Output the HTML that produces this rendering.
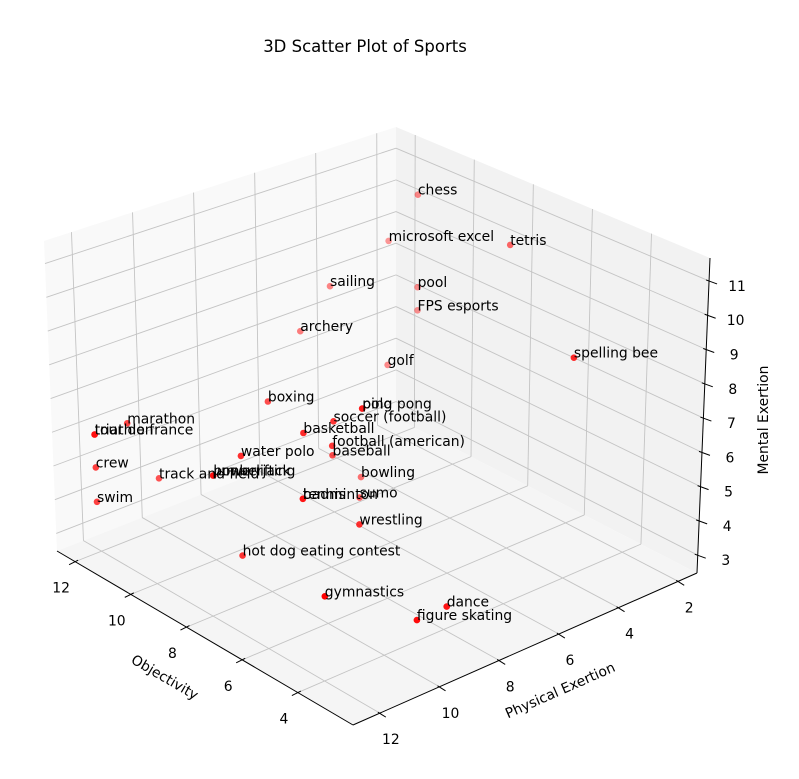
<!DOCTYPE html>
<html><head><meta charset="utf-8"><style>
html,body{margin:0;padding:0;background:#fff;}
svg{display:block;font-family:"DejaVu Sans","Liberation Sans",sans-serif;}
</style></head><body>
<svg id="chart" width="799" height="779" viewBox="0 0 799 779" xmlns="http://www.w3.org/2000/svg">
<rect width="799" height="779" fill="#fff"/>
<text x="365" y="52" text-anchor="middle" font-size="16.5" fill="#000">3D Scatter Plot of Sports</text>
<g id="panes"></g>
<g id="grid"></g>
<g id="axes"></g>
<g id="points"></g>
<g id="labels"></g>
<text x="165" y="682" text-anchor="middle" font-size="13.9" transform="rotate(30.4 165 677)">Objectivity</text>
<text x="560" y="695" text-anchor="middle" font-size="13.9" transform="rotate(-23.8 560 690)">Physical Exertion</text>
<text x="763" y="425" text-anchor="middle" font-size="13.9" transform="rotate(-90 763 420)">Mental Exertion</text>
</svg>
<script>
const sports = ["chess","microsoft excel","tetris","pool","FPS esports","golf","sailing","archery","spelling bee","boxing","marathon","triathlon","tour de france","crew","swim","track and field","lumberjack","powerlifting","water polo","basketball","soccer (football)","polo","ping pong","football (american)","baseball","bowling","tennis","badminton","sumo","wrestling","hot dog eating contest","gymnastics","dance","figure skating"];
const objectivity = [11.25,12.25,8.1,11.25,11.25,11.25,12.2,12.2,3.8,10.2,12,12.1,12.1,12.1,12.1,12.0,10.05,10.05,9.05,7.9,7.9,9,9,7.95,9,10.1,9,9,9.1,7,9.05,5.05,3.9,3.9];
const physical = [2,2,2,2,2,3,4,5,4,8,11,12,12,12,12,10,10,10,10,9,8,6,6,8,7,5,8,8,6,8,10,11,8,9];
const mental = [10.3,8.45,10.0,7.42,6.7,5.35,7.72,6.66,9.03,6.42,5.95,5.9,5.9,4.92,3.9,3.97,4.96,4.96,6.0,6.85,6.85,6.05,6.05,6.1,5,3.13,4.05,4.05,3.33,4.2,3.05,4.07,3.19,3.17];
const xTicks = [4,6,8,10,12];
const yTicks = [2,4,6,8,10,12];
const zTicks = [3,4,5,6,7,8,9,10,11];
const xLim = [2.02,12.65], yLim = [1.37,12.9], zLim = [2.48,11.67];

const K = {"000":[697,573],"100":[396,418],"010":[353,725],"110":[57,551],
           "001":[710,258],"101":[396,127],"011":[353,402],"111":[44,241]};
function projUVW(u,v,w){
  let X=0,Y=0;
  for(const a of [0,1])for(const b of [0,1])for(const c of [0,1]){
    const wt=(a?u:1-u)*(b?v:1-v)*(c?w:1-w);
    const p=K[""+a+b+c]; X+=wt*p[0]; Y+=wt*p[1];
  }
  return [X,Y];
}
const nu=x=>(x-xLim[0])/(xLim[1]-xLim[0]);
const nv=y=>(y-yLim[0])/(yLim[1]-yLim[0]);
const nw=z=>(z-zLim[0])/(zLim[1]-zLim[0]);
function proj(x,y,z){return projUVW(nu(x),nv(y),nw(z));}
const NS="http://www.w3.org/2000/svg";
function mk(tag,attrs,parent){const e=document.createElementNS(NS,tag);for(const k in attrs)e.setAttribute(k,attrs[k]);parent.appendChild(e);return e;}
function poly(pts){return pts.map(p=>p[0].toFixed(1)+","+p[1].toFixed(1)).join(" ");}

const panes=document.getElementById("panes");
let pe=mk("polygon",{points:poly([K["100"],K["110"],K["111"],K["101"]]),fill:"#f9f9f9"},panes);


pe=mk("polygon",{points:poly([K["000"],K["100"],K["101"],K["001"]]),fill:"#f2f2f2"},panes);


pe=mk("polygon",{points:poly([K["000"],K["100"],K["110"],K["010"]]),fill:"#f5f5f5"},panes);



const grid=document.getElementById("grid");
function gl(a,b,name){const l=mk("line",{x1:a[0],y1:a[1],x2:b[0],y2:b[1],stroke:"#c4c4c4","stroke-width":0.9},grid);

}
yTicks.forEach(t=>{gl(projUVW(1,nv(t),0),projUVW(1,nv(t),1),'gridline-y-xpane');gl(projUVW(0,nv(t),0),projUVW(1,nv(t),0),'gridline-y-floor');});
zTicks.forEach(t=>{gl(projUVW(1,0,nw(t)),projUVW(1,1,nw(t)),'gridline-z-xpane');gl(projUVW(0,0,nw(t)),projUVW(1,0,nw(t)),'gridline-z-ypane');});
xTicks.forEach(t=>{gl(projUVW(nu(t),0,0),projUVW(nu(t),0,1),'gridline-x-ypane');gl(projUVW(nu(t),0,0),projUVW(nu(t),1,0),'gridline-x-floor');});

const axes=document.getElementById("axes");
function al(a,b,name){const l=mk("line",{x1:a[0],y1:a[1],x2:b[0],y2:b[1],stroke:"#000","stroke-width":1},axes);

}
al(K["010"],K["110"],'x-axis-line');
al(K["010"],K["000"],'y-axis-line');
al(K["000"],K["001"],'z-axis-line');
function tick(p,d1,d2,lo,label,name){
  const l=mk("line",{x1:p[0]+d1[0],y1:p[1]+d1[1],x2:p[0]+d2[0],y2:p[1]+d2[1],stroke:"#000","stroke-width":1},axes);
  
  
  const t=mk("text",{x:p[0]+lo[0],y:p[1]+lo[1]+5,"text-anchor":"middle","font-size":13.9},axes);
  t.textContent=label;
  
  
}
xTicks.forEach(t=>tick(projUVW(nu(t),1,0),[3,-1.5],[-6,3],[-14,26],t,'x'));
yTicks.forEach(t=>tick(projUVW(0,nv(t),0),[-2,-1],[6,4],[11,26],t,'y'));
zTicks.forEach(t=>tick(projUVW(0,0,nw(t)),[-3,-1],[8,3],[28,5],t,'z'));

const pts=document.getElementById("points"), labs=document.getElementById("labels");
const depth=sports.map((s,i)=>nv(physical[i])-nu(objectivity[i])+0.2*nw(mental[i]));
const dmin=Math.min(...depth), dmax=Math.max(...depth);
sports.forEach((s,i)=>{
  const p=proj(objectivity[i],physical[i],mental[i]);
  const a=0.4+0.6*(depth[i]-dmin)/(dmax-dmin);
  const c=mk("circle",{cx:p[0].toFixed(1),cy:p[1].toFixed(1),r:3.3,fill:"#ff0000","fill-opacity":a.toFixed(2)},pts);
  
  
});
sports.forEach((s,i)=>{
  const p=proj(objectivity[i],physical[i],mental[i]);
  const t=mk("text",{x:p[0].toFixed(1),y:p[1].toFixed(1),"font-size":13.9,fill:"#000"},labs);
  t.textContent=s;
  
  
});
</script>
</body></html>
